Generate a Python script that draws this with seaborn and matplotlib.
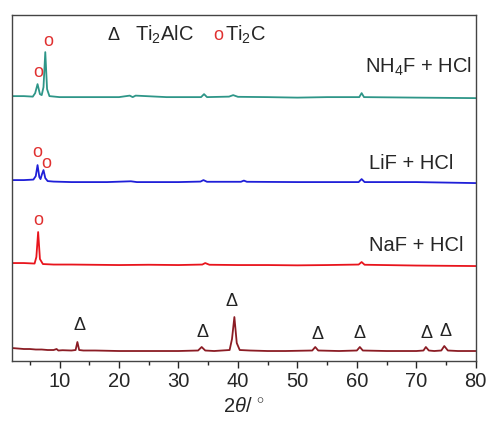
import numpy as np
import pandas as pd
import seaborn as sns
import matplotlib.pyplot as plt

# XRD patterns (2theta in degrees, intensity in a.u. above each baseline)
ti2alc_x = [2, 3, 4, 5, 6, 7, 8, 9, 9.5, 9.8, 10.5, 12, 12.7, 13.0, 13.3, 14, 16, 20, 25, 30,
            33.3, 33.9, 34.5, 36, 38.6, 39.0, 39.4, 39.8, 40.3, 42, 45, 48, 52.5, 53.0, 53.5,
            57, 60, 60.5, 61, 65, 70, 71.2, 71.6, 72.1, 73, 74.2, 74.7, 75.3, 77, 80]
ti2alc_y = [3, 2.5, 2, 2, 1.5, 1.5, 1, 1, 2, 0.5, 0.8, 0.5, 1, 9, 1, 0.5, 0.5, 0, 0, 0,
            0.5, 4, 0.5, 0, 1, 12, 34, 8, 1, 0.5, 0, 0, 0.5, 4, 0.5,
            0, 0.5, 4, 0.5, 0, 0, 0.5, 4, 0.5, 0, 0.5, 5, 0.5, 0, 0]

naf_x = [2, 4, 5.8, 6.1, 6.4, 6.7, 7.2, 9, 12, 20, 25, 30, 34, 34.5, 35.2, 40, 45, 50, 55,
         60.3, 60.8, 61.3, 70, 80]
naf_y = [2, 2, 1.5, 8, 33, 6, 1, 0.5, 0.5, 0, 0.3, 0, 0.5, 2, 0.3, 0, 0, -0.3, 0,
         0.5, 3, 0.3, -0.5, -1]

lif_x = [2, 4, 5.6, 6.0, 6.3, 6.6, 6.8, 7.05, 7.3, 7.6, 8.0, 9, 12, 18, 22, 23, 30,
         33.7, 34.2, 34.8, 40.5, 41, 41.5, 50, 60.3, 60.8, 61.3, 70, 80]
lif_y = [2, 2, 2.5, 6, 17, 5, 3, 8, 12, 4, 1, 0.5, 0, 0, 0.8, 0, 0,
         0.5, 2, 0.3, 0.3, 1.5, 0.3, 0, 0, 3, 0, 0, -1]

nh4f_x = [2, 4, 5.5, 5.9, 6.3, 6.7, 7.0, 7.3, 7.6, 7.9, 8.3, 10, 15, 20, 21.8, 22.3, 22.8,
          28, 33.8, 34.3, 34.8, 38.5, 39.2, 40, 45, 50, 55, 60.4, 60.8, 61.2, 70, 80]
nh4f_y = [1, 1, 0.5, 4, 13, 3, 2, 10, 45, 8, 1, 0, 0, 0, 1.5, 0, 1.5,
          0, 0, 3, 0, 0.5, 2, 0.3, 0, -0.5, 0, 0, 4, 0, -0.5, -1]

samples = ["Ti2AlC", "NaF + HCl", "LiF + HCl", "NH4F + HCl"]
offsets = [10, 96, 179, 264]
colors = ["#8b1c24", "#e8141c", "#1f1fd8", "#2e9688"]
labels = [r"NaF + HCl", r"LiF + HCl", r"NH$_4$F + HCl"]

# peak markers
delta_x = [13.3, 34.1, 39.0, 53.4, 60.4, 71.7, 74.9]
delta_y = [36, 29, 60, 27, 28, 28, 30]
circ_x = [6.5, 6.3, 7.7, 6.5, 8.1]
circ_y = [141, 209, 198, 289, 320]

rows = []
for name, off, xs, ys in zip(samples, offsets,
                             [ti2alc_x, naf_x, lif_x, nh4f_x],
                             [ti2alc_y, naf_y, lif_y, nh4f_y]):
    for x, y in zip(xs, ys):
        rows.append({"two_theta": x, "intensity": y + off, "sample": name})
df = pd.DataFrame(rows)

sns.set_style("white")
plt.rcParams["font.family"] = ["Liberation Sans", "DejaVu Sans"]
plt.rcParams["mathtext.fontset"] = "custom"
plt.rcParams["mathtext.rm"] = "Liberation Sans"
plt.rcParams["mathtext.it"] = "Liberation Sans:italic"

fig = plt.figure(figsize=(4.89, 4.21), dpi=100)
ax = fig.add_axes([0.0245, 0.1425, 0.9485, 0.8215])

sns.lineplot(data=df, x="two_theta", y="intensity", hue="sample", palette=colors,
             estimator=None, sort=False, legend=False, linewidth=1.3, ax=ax)

for x, y in zip(delta_x, delta_y):
    ax.text(x, y, "Δ", ha="center", va="center", fontsize=13, color="#222222")
for x, y in zip(circ_x, circ_y):
    ax.text(x, y, "o", ha="center", va="center", fontsize=13, color="#e03030")

# legend-like header
ax.text(19.0, 326, "Δ", ha="center", va="center", fontsize=13, color="#222222")
ax.text(22.7, 326, r"Ti$_2$AlC", ha="left", va="center", fontsize=14.5)
ax.text(36.7, 326, "o", ha="center", va="center", fontsize=13, color="#e03030")
ax.text(37.9, 326, r"Ti$_2$C", ha="left", va="center", fontsize=14.5)

ax.text(79.3, 294, labels[2], ha="right", va="center", fontsize=14.5)
ax.text(76.2, 198, labels[1], ha="right", va="center", fontsize=14.5)
ax.text(77.9, 116, labels[0], ha="right", va="center", fontsize=14.5)

ax.set_xlim(2, 80)
ax.set_ylim(0, 346)
ax.set_xticks(np.arange(10, 81, 10))
ax.set_xticks(np.arange(5, 80, 10), minor=True)
ax.set_yticks([])
ax.tick_params(axis="x", which="major", direction="out", length=5, width=1,
               labelsize=14.5, bottom=True, pad=3)
ax.tick_params(axis="x", which="minor", direction="out", length=3, width=1, bottom=True)
for s in ax.spines.values():
    s.set_color("#444444")
    s.set_linewidth(1)
ax.set_xlabel(r"2$\it{\theta}$$\it{/}$ $^{\circ}$", fontsize=14.5, labelpad=4)
ax.set_ylabel("")

fig.savefig("out.png", dpi=100)
